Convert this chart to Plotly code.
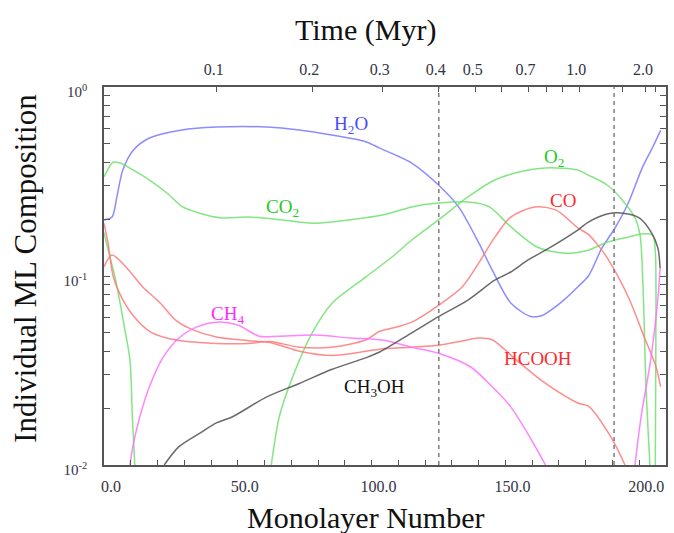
import numpy as np
import plotly.graph_objects as go

# ---- Ice monolayer composition vs. monolayer number ----
ML_H2O = [0, 3, 4.8, 7, 11, 17, 29, 42, 61, 73, 85, 98, 103, 110, 115, 125, 132.5, 140, 145, 152,
          159.5, 164, 167, 172, 177, 181, 186, 191, 196, 201, 205, 208]
H2O = [0.198, 0.205, 0.262, 0.363, 0.464, 0.537, 0.592, 0.614, 0.614, 0.592, 0.557, 0.512, 0.475, 0.43,
       0.396, 0.303, 0.232, 0.15, 0.108, 0.072, 0.061, 0.062, 0.066, 0.075, 0.0875, 0.10, 0.14, 0.18,
       0.245, 0.37, 0.48, 0.59]

ML_CO2 = [0, 3.4, 6, 10.8, 17, 23.5, 29.4, 35.7, 44, 54, 66.6, 79, 91.6, 104, 115, 125, 136, 144, 152,
          162, 172, 181, 188, 196, 201, 205, 206, 206.2, 206.0]
CO2 = [0.334, 0.40, 0.396, 0.364, 0.322, 0.275, 0.232, 0.215, 0.203, 0.205, 0.198, 0.19, 0.198, 0.21,
       0.232, 0.243, 0.246, 0.232, 0.182, 0.142, 0.132, 0.137, 0.151, 0.161, 0.167, 0.165, 0.135, 0.04, 0.01]

ML_O2_EARLY = [0, 2.2, 4.1, 6, 7.8, 9.7, 10.6, 11.5]
O2_EARLY = [0.17, 0.126, 0.099, 0.072, 0.052, 0.036, 0.018, 0.01]
ML_O2_LATE = [62.5, 65.5, 70.4, 77.8, 85.3, 97.9, 107.6, 115, 125, 136, 146, 155, 165, 177, 181, 188,
              193, 198.4, 200.3, 201.4, 202.5, 204]
O2_LATE = [0.01, 0.018, 0.029, 0.05, 0.072, 0.099, 0.126, 0.155, 0.198, 0.262, 0.322, 0.355, 0.373,
           0.364, 0.342, 0.303, 0.259, 0.203, 0.165, 0.089, 0.0265, 0.01]

ML_CO = [0, 1.5, 3.4, 6, 10.8, 17, 23.4, 31, 42, 54, 62, 73, 85, 98, 103, 110, 115, 125, 134, 140, 146,
         152, 161, 169, 177, 181, 185, 188, 196, 202, 206, 208]
CO = [0.19, 0.15, 0.10, 0.08, 0.062, 0.051, 0.047, 0.045, 0.044, 0.044, 0.045, 0.042, 0.042, 0.046,
      0.051, 0.054, 0.057, 0.070, 0.088, 0.117, 0.16, 0.205, 0.232, 0.223, 0.18, 0.166, 0.143, 0.125,
      0.077, 0.047, 0.034, 0.026]

ML_HCOOH = [0, 3, 8.6, 14.5, 21, 27, 33, 42, 54, 62, 73, 85, 98, 103, 115, 125, 133, 140, 145, 155, 165,
            177, 181, 189.5, 194.7]
HCOOH = [0.112, 0.129, 0.110, 0.0875, 0.072, 0.058, 0.052, 0.0475, 0.0455, 0.0445, 0.04, 0.038, 0.040,
         0.041, 0.042, 0.043, 0.045, 0.047, 0.046, 0.035, 0.027, 0.0213, 0.0205, 0.014, 0.01]

ML_CH4_EARLY = [9.7, 11, 13.4, 17, 22, 28, 35, 42, 50, 58, 65, 79, 92, 104, 115, 125, 137, 145, 152,
                159.7, 165]
CH4_EARLY = [0.01, 0.013, 0.018, 0.026, 0.037, 0.047, 0.054, 0.057, 0.055, 0.048, 0.048, 0.0487, 0.047,
             0.0458, 0.042, 0.039, 0.033, 0.026, 0.0203, 0.0136, 0.01]
ML_CH4_LATE = [198.4, 200.7, 204.4, 207, 207.8]
CH4_LATE = [0.01, 0.018, 0.037, 0.077, 0.11]

ML_CH3OH = [22.5, 28, 36, 42, 48, 61, 73, 85, 98, 103, 115, 125, 136, 146, 152, 158.6, 165, 177, 181,
            188, 194, 200, 204.4, 207, 207.8]
CH3OH = [0.01, 0.0125, 0.0148, 0.0167, 0.018, 0.023, 0.027, 0.032, 0.037, 0.0396, 0.05, 0.061, 0.0746,
         0.095, 0.105, 0.122, 0.137, 0.175, 0.193, 0.213, 0.215, 0.203, 0.171, 0.14, 0.11]

# Top axis: elapsed time (Myr) at the corresponding monolayer number
TIME_LABELS = ["0.1", "0.2", "0.3", "0.4", "0.5", "0.7", "1.0", "2.0"]
TIME_LABEL_ML = [42.1, 77.8, 104.2, 125.1, 138.9, 158.6, 177.6, 202.5]
TIME_MINOR_ML = [148.5, 165.3, 171.3, 193.6, 206.2]

# Reference epochs marked with dashed lines (monolayer number)
EPOCH_ML = [125.1, 190.6]

X_TICKS = [0, 50, 100, 150, 200]
Y_TICKS = [0.01, 0.1, 1.0]
Y_TICK_TEXT = ["10<sup>-2</sup>", "10<sup>-1</sup>", "10<sup>0</sup>"]

SERIF = "Liberation Serif, Times New Roman, serif"

BLUE = "rgba(120,120,255,0.85)"
GREEN = "rgba(110,225,110,0.85)"
RED = "rgba(255,120,120,0.85)"
MAGENTA = "rgba(255,110,255,0.85)"
BLACK = "rgba(80,80,80,0.85)"


def joined(*segments):
    xs, ys = [], []
    for i, (sx, sy) in enumerate(segments):
        if i:
            xs.append(None)
            ys.append(None)
        xs.extend(sx)
        ys.extend(sy)
    return xs, ys


series = [
    ("H2O", ML_H2O, H2O, BLUE),
    ("CO2", ML_CO2, CO2, GREEN),
    ("O2", *joined((ML_O2_EARLY, O2_EARLY), (ML_O2_LATE, O2_LATE)), GREEN),
    ("CO", ML_CO, CO, RED),
    ("HCOOH", ML_HCOOH, HCOOH, RED),
    ("CH4", *joined((ML_CH4_EARLY, CH4_EARLY), (ML_CH4_LATE, CH4_LATE)), MAGENTA),
    ("CH3OH", ML_CH3OH, CH3OH, BLACK),
]

fig = go.Figure()
for name, xs, ys, color in series:
    fig.add_trace(go.Scatter(
        x=xs, y=ys, name=name, mode="lines", connectgaps=False,
        line=dict(color=color, width=1.5, shape="spline", smoothing=0.8),
        showlegend=False, hoverinfo="skip",
    ))

# carrier trace so the top time axis is drawn
fig.add_trace(go.Scatter(x=[0, 210], y=[None, None], xaxis="x2", yaxis="y",
                         mode="lines", showlegend=False, hoverinfo="skip"))

for xm in EPOCH_ML:
    fig.add_shape(type="line", xref="x", yref="paper", x0=xm, x1=xm, y0=0, y1=1,
                  line=dict(color="rgba(110,110,110,0.9)", width=1.5, dash="4px,4px"))

# species labels
labels = [
    ("H<sub>2</sub>O", 92.3, 0.63, "#4a4aff"),
    ("CO<sub>2</sub>", 66.6, 0.229, "#22cc22"),
    ("O<sub>2</sub>", 168.0, 0.42, "#22cc22"),
    ("CO", 171.6, 0.252, "#ff2a2a"),
    ("CH<sub>4</sub>", 46.2, 0.062, "#ff2aff"),
    ("CH<sub>3</sub>OH", 100.9, 0.0255, "#111111"),
    ("HCOOH", 162.3, 0.0368, "#ff2a2a"),
]
for text, xm, yv, color in labels:
    fig.add_annotation(x=xm, y=np.log10(yv), xref="x", yref="y", text=text, showarrow=False,
                       font=dict(family=SERIF, size=19, color=color))

# axis titles, placed in paper coordinates of the 104..668 x 87..465 plot box
axis_title_font = dict(family=SERIF, size=30, color="#111")
fig.add_annotation(x=0.4645, y=1.15, xref="paper", yref="paper", yanchor="middle",
                   text="Time (Myr)", showarrow=False, font=axis_title_font)
fig.add_annotation(x=0.4645, y=-0.138, xref="paper", yref="paper", yanchor="middle",
                   text="Monolayer Number", showarrow=False, font=axis_title_font)
fig.add_annotation(x=-0.14, y=0.52, xref="paper", yref="paper", xanchor="center", yanchor="middle",
                   textangle=-90, text="Individual ML Composition", showarrow=False,
                   font=dict(family=SERIF, size=31, color="#111"))

tick_font = dict(family=SERIF, size=16, color="#333344")
frame = "#555555"

fig.update_layout(
    width=674, height=533,
    margin=dict(l=104, r=6, t=87, b=68),
    paper_bgcolor="white", plot_bgcolor="white",
    xaxis=dict(
        range=[0, 210], showgrid=False, zeroline=False,
        showline=True, linecolor=frame, linewidth=1.5, mirror=True,
        tickmode="array", tickvals=X_TICKS, ticktext=[f"{v:.1f}" for v in X_TICKS],
        ticks="inside", ticklen=5, tickcolor=frame, tickwidth=1,
        minor=dict(dtick=10, ticks="inside", ticklen=5, tickcolor=frame, tickwidth=1),
        tickfont=tick_font, ticklabelshift=7, ticklabelstandoff=6,
    ),
    xaxis2=dict(
        overlaying="x", side="top", range=[0, 210], showgrid=False, zeroline=False,
        showline=False, tickmode="array", tickvals=TIME_LABEL_ML, ticktext=TIME_LABELS,
        ticks="inside", ticklen=5, tickcolor=frame, tickwidth=1,
        minor=dict(tickmode="array", tickvals=TIME_MINOR_ML, ticks="inside", ticklen=5,
                   tickcolor=frame, tickwidth=1),
        tickfont=tick_font, ticklabelshift=-3, ticklabelstandoff=8,
    ),
    yaxis=dict(
        type="log", range=[-2, 0], showgrid=False, zeroline=False,
        showline=True, linecolor=frame, linewidth=1.5, mirror="allticks",
        tickmode="array", tickvals=Y_TICKS, ticktext=Y_TICK_TEXT,
        ticks="inside", ticklen=6, tickcolor=frame, tickwidth=1,
        minor=dict(tickmode="array",
                   tickvals=[m * 0.01 for m in range(2, 10)] + [m * 0.1 for m in range(2, 10)],
                   ticks="inside", ticklen=4, tickcolor=frame, tickwidth=1),
        tickfont=dict(family=SERIF, size=15, color="#333344"),
        ticklabelshift=5, ticklabelstandoff=12,
    ),
)

fig.write_html("out.html")
